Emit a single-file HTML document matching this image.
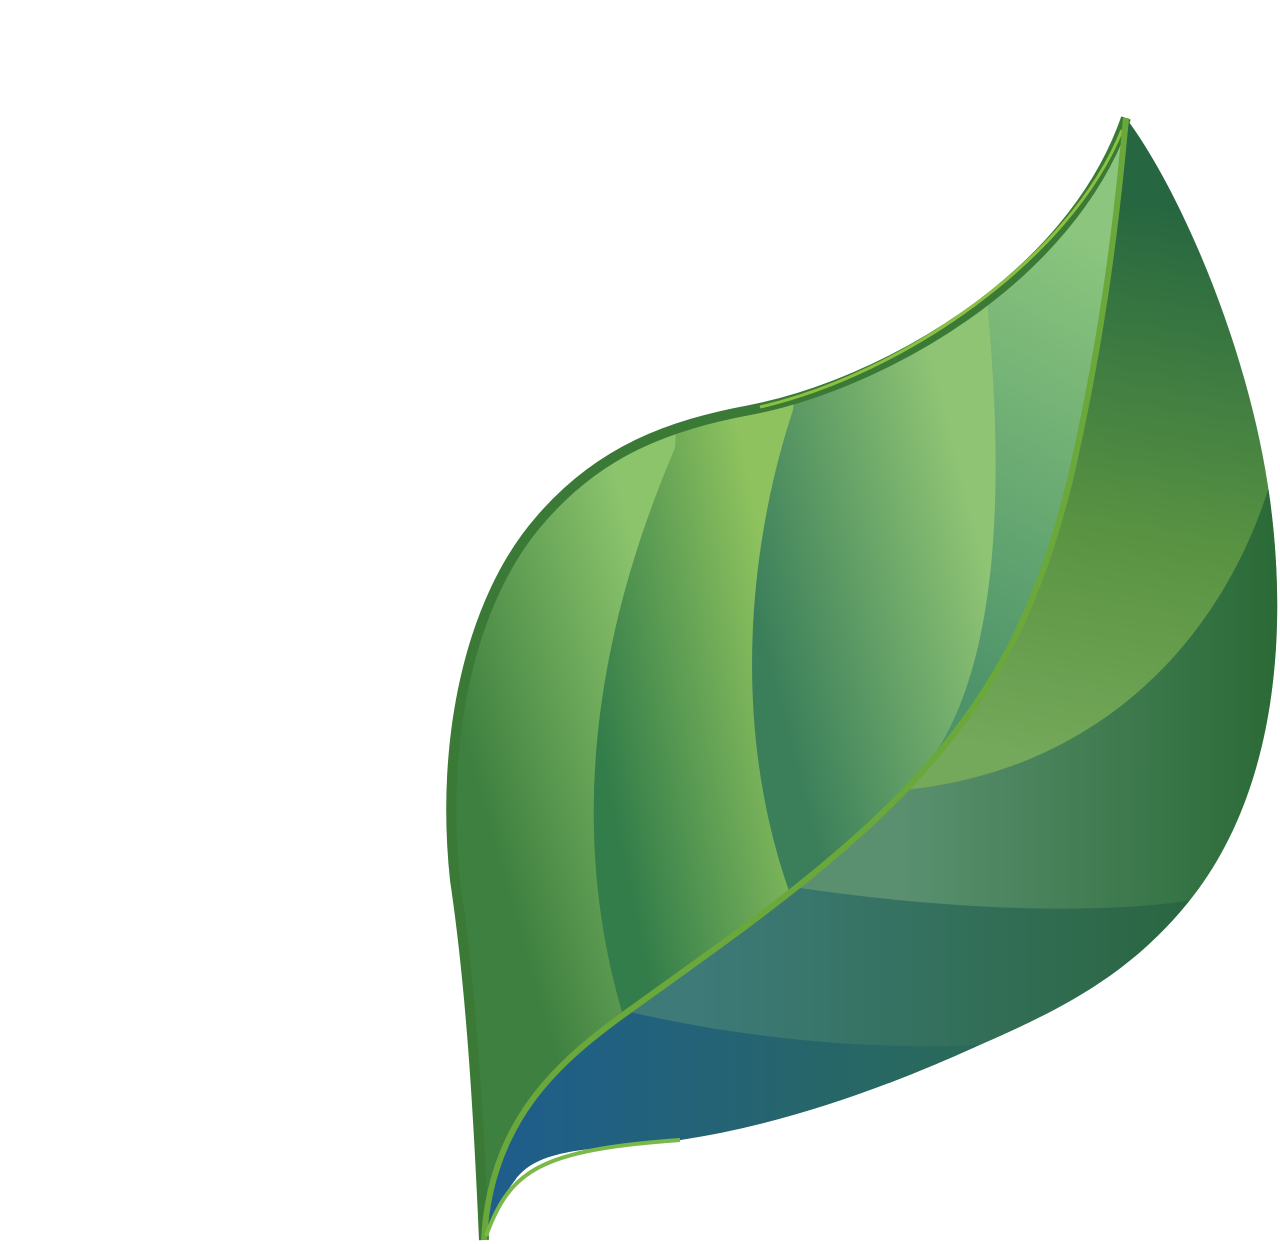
<!DOCTYPE html>
<html><head><meta charset="utf-8"><style>
html,body{margin:0;padding:0;background:#fff;}
svg{display:block;}
</style></head><body>
<svg width="1280" height="1244" viewBox="0 0 1280 1244" xmlns="http://www.w3.org/2000/svg">
<defs>
<clipPath id="leftHalf"><path d="M484,1240 C478,1100 470,980 455,880 C440,740 470,600 540,520 C600,450 670,425 750,410 C880,385 1070,280 1126,118 C1115,240 1100,350 1070,480 C1040,600 1000,690 910,785 C830,870 720,945 630,1010 C560,1060 490,1120 484,1240 Z"/></clipPath>
<clipPath id="rightHalf"><path d="M1126,118 C1180,190 1250,350 1270,500 C1290,650 1270,800 1190,900 C1130,975 1060,1010 975,1047 C880,1090 780,1125 680,1140 C600,1150 540,1145 515,1180 C500,1200 490,1220 484,1240 C490,1120 560,1060 630,1010 C720,945 830,870 910,785 C1000,690 1040,600 1070,480 C1100,350 1115,240 1126,118 Z"/></clipPath>
<linearGradient id="g1" gradientUnits="userSpaceOnUse" x1="470" y1="760" x2="680" y2="700"><stop offset="0" stop-color="#3e8040"/><stop offset="1" stop-color="#8cc46c"/></linearGradient>
<linearGradient id="g2" gradientUnits="userSpaceOnUse" x1="595" y1="720" x2="790" y2="680"><stop offset="0" stop-color="#337d4a"/><stop offset="1" stop-color="#8ec25e"/></linearGradient>
<linearGradient id="g3" gradientUnits="userSpaceOnUse" x1="760" y1="640" x2="990" y2="580"><stop offset="0" stop-color="#3a7e5a"/><stop offset="1" stop-color="#8fc474"/></linearGradient>
<linearGradient id="g4" gradientUnits="userSpaceOnUse" x1="900" y1="650" x2="1120" y2="250"><stop offset="0" stop-color="#4e946a"/><stop offset="1" stop-color="#8cc67e"/></linearGradient>
<linearGradient id="r1" gradientUnits="userSpaceOnUse" x1="1150" y1="200" x2="1050" y2="760"><stop offset="0" stop-color="#266640"/><stop offset="0.6" stop-color="#5a9442"/><stop offset="1" stop-color="#74a85a"/></linearGradient>
<linearGradient id="r2" gradientUnits="userSpaceOnUse" x1="900" y1="0" x2="1280" y2="0"><stop offset="0" stop-color="#5a9070"/><stop offset="1" stop-color="#2a6a36"/></linearGradient>
<linearGradient id="r3" gradientUnits="userSpaceOnUse" x1="700" y1="0" x2="1190" y2="0"><stop offset="0" stop-color="#3d7a78"/><stop offset="1" stop-color="#2a6640"/></linearGradient>
<linearGradient id="r4" gradientUnits="userSpaceOnUse" x1="520" y1="0" x2="980" y2="0"><stop offset="0" stop-color="#1f5e8a"/><stop offset="1" stop-color="#2a6a58"/></linearGradient>
</defs>
<g clip-path="url(#leftHalf)">
<rect x="0" y="0" width="1280" height="1244" fill="url(#g1)"/>
<path d="M675,448 C610,600 560,800 622,1012 L700,1300 L1300,1300 L1300,0 L700,0 Z" fill="url(#g2)"/>
<path d="M793,410 C750,540 730,720 788,888 L900,1300 L1300,1300 L1300,0 L850,0 Z" fill="url(#g3)"/>
<path d="M988,312 C1005,500 1000,700 905,790 L1300,1300 L1300,0 L990,0 Z" fill="url(#g4)"/>
</g>
<g clip-path="url(#rightHalf)">
<rect x="0" y="0" width="1280" height="1244" fill="url(#r1)"/>
<path d="M905,790 C1100,770 1220,640 1268,490 L1300,490 L1300,1300 L400,1300 L400,790 Z" fill="url(#r2)"/>
<path d="M800,888 C950,910 1100,915 1192,900 L1300,900 L1300,1300 L400,1300 L400,888 Z" fill="url(#r3)"/>
<path d="M630,1012 C750,1040 880,1050 978,1045 L1300,1045 L1300,1300 L400,1300 L400,1012 Z" fill="url(#r4)"/>
</g>
<path d="M484,1240 C478,1100 470,980 455,880 C440,740 470,600 540,520 C600,450 670,425 750,410 C880,385 1070,280 1126,118" fill="none" stroke="#3a7a36" stroke-width="10"/>
<path d="M760,407 C900,375 1070,260 1122,130" fill="none" stroke="#8cc040" stroke-width="3"/>
<path d="M484,1240 C490,1120 560,1060 630,1010 C720,945 830,870 910,785 C1000,690 1040,600 1070,480 C1100,350 1115,240 1126,118" fill="none" stroke="#6aa83c" stroke-width="6"/>
<path d="M486,1236 C510,1170 540,1150 680,1140" fill="none" stroke="#7ab848" stroke-width="4"/>
</svg>
</body></html>
